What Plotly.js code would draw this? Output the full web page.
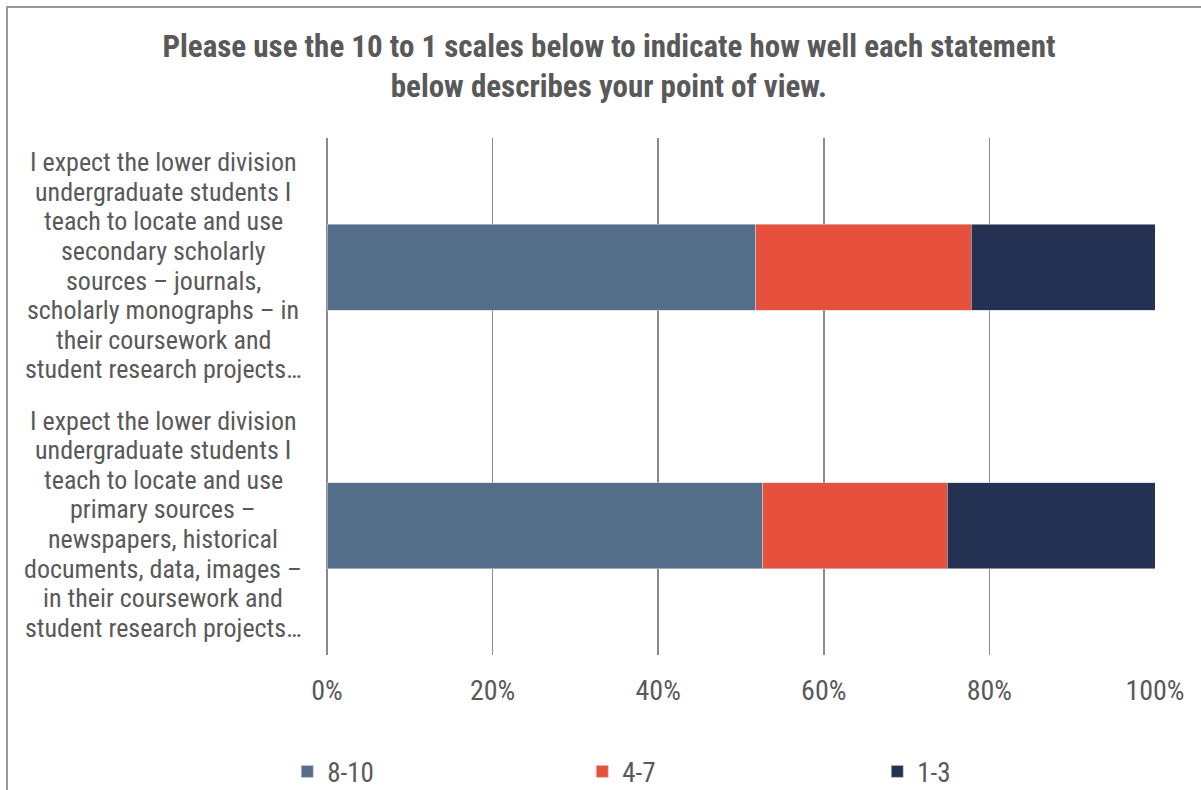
<!DOCTYPE html>
<html>
<head>
<meta charset="utf-8">
<script src="https://cdn.plot.ly/plotly-3.0.1.min.js"></script>
<style>
  html, body { margin: 0; padding: 0; background: #ffffff; }
  #frame { position: absolute; left: 6px; top: 6px; width: 1200px; height: 790px;
           border-left: 2px solid #999999; border-top: 2px solid #999999; box-sizing: border-box; }
  #chart { position: absolute; left: 0; top: 0; width: 1201px; height: 790px; }
</style>
</head>
<body>
<div id="frame"></div>
<div id="chart"></div>
<script>
const categories = [
  "I expect the lower division<br>undergraduate students I<br>teach to locate and use<br>secondary scholarly<br>sources – journals,<br>scholarly monographs – in<br>their coursework and<br>student research projects…",
  "I expect the lower division<br>undergraduate students I<br>teach to locate and use<br>primary sources –<br>newspapers, historical<br>documents, data, images –<br>in their coursework and<br>student research projects…"
];
const seriesNames = ["8-10", "4-7", "1-3"];
const values_8_10 = [0.518, 0.526];
const values_4_7 = [0.260, 0.223];
const values_1_3 = [0.222, 0.251];
const colors = ["#546E8A", "#E8503E", "#243152"];
const xTickVals = [0, 0.2, 0.4, 0.6, 0.8, 1.0];
const xTickText = ["0%", "20%", "40%", "60%", "80%", "100%"];
const titleText = "Please use the 10 to 1 scales below to indicate how well each statement<br>below describes your point of view.";

const FONT = "'Roboto Condensed', 'Liberation Sans', sans-serif";
const TEXT_COLOR = "#595959";
const allValues = [values_8_10, values_4_7, values_1_3];
const yIdx = categories.map((_, i) => i);

const traces = seriesNames.map((name, i) => ({
  type: "bar",
  orientation: "h",
  name: name,
  x: allValues[i],
  y: yIdx,
  marker: { color: colors[i], line: { color: "#d0d0d0", width: 0.6 } },
  hoverinfo: "x+name"
}));

// Category labels: one annotation per line so the line spacing can match the reference
const LINE_GAP = 29.6;
const annotations = [];
categories.forEach((c, i) => {
  const lines = c.split("<br>");
  const mid = (lines.length - 1) / 2;
  lines.forEach((ln, j) => {
    annotations.push({
      xref: "paper", yref: "y",
      x: -0.198, y: i,
      xanchor: "center", yanchor: "middle",
      yshift: -(j - mid) * LINE_GAP + 1.5,
      text: ln, showarrow: false, align: "center",
      font: { family: FONT, size: 26, color: TEXT_COLOR }
    });
  });
});

const layout = {
  width: 1201, height: 790,
  paper_bgcolor: "rgba(0,0,0,0)", plot_bgcolor: "rgba(0,0,0,0)",
  margin: { l: 327, r: 46, t: 138, b: 135, autoexpand: false },
  barmode: "stack",
  bargap: 0.667,
  showlegend: true,
  title: {
    text: "<b>" + titleText + "</b>",
    x: 0.507, xref: "container", xanchor: "center",
    y: 1 - 57 / 790, yref: "container", yanchor: "middle",
    font: { family: FONT, size: 31, color: TEXT_COLOR }
  },
  xaxis: {
    range: [0, 1.0], tickvals: xTickVals, ticktext: xTickText,
    showgrid: true, gridcolor: "#8a8a8a", gridwidth: 1.5,
    zeroline: true, zerolinecolor: "#8a8a8a", zerolinewidth: 1.5,
    showline: false, ticks: "", ticklabelstandoff: 16,
    tickfont: { family: FONT, size: 28, color: TEXT_COLOR },
    fixedrange: true
  },
  yaxis: {
    range: [categories.length - 0.5, -0.5], showticklabels: false, showgrid: false, zeroline: false,
    showline: false, ticks: "", fixedrange: true
  },
  legend: {
    orientation: "h", x: -0.048, xanchor: "left", y: -0.226, yanchor: "middle",
    xref: "paper", yref: "paper",
    entrywidth: 250, entrywidthmode: "pixels",
    traceorder: "normal",
    font: { family: FONT, size: 27, color: TEXT_COLOR },
    itemwidth: 30
  },
  annotations: annotations
};

Plotly.newPlot("chart", traces, layout, { displayModeBar: false, staticPlot: true });
</script>
</body>
</html>
